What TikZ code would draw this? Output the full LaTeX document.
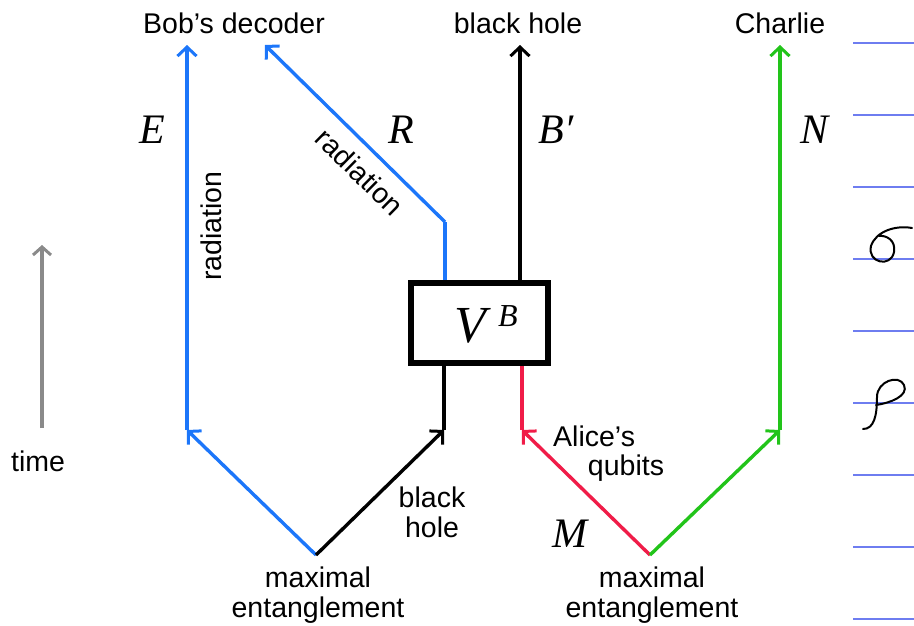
\documentclass[tikz,border=0pt]{standalone}
\usepackage{fontspec}
\setmainfont{Liberation Sans}
\newfontfamily\serifit{Liberation Serif}[UprightFont=*-Italic]
\usetikzlibrary{arrows.meta}
\definecolor{cblue}{RGB}{28,118,250}
\definecolor{cred}{RGB}{240,28,72}
\definecolor{cgreen}{RGB}{34,196,26}
\definecolor{cgray}{RGB}{138,138,138}
\definecolor{cline}{RGB}{110,125,240}
\tikzset{
  wire/.style={line width=3.4pt},
  tip/.style={-{Straight Barb[length=9pt,width=19pt,line width=3pt]}},
  lbl/.style={font=\fontsize{28.5}{31}\selectfont, inner sep=0pt, align=center},
  sym/.style={font=\serifit\fontsize{42}{46}\selectfont, inner sep=0pt},
  ruled/.style={cline, line width=1.2pt},
  hand/.style={line width=2pt, line cap=round, line join=round}
}
\begin{document}
\begin{tikzpicture}[x=1pt,y=-1pt]
\useasboundingbox (0,0) rectangle (914,625);
% top labels
\node[lbl] (bob) at (234,23) {Bob’s decoder};
\node[lbl] (bh) at (518,23) {black hole};
\node[lbl] (charlie) at (780,23) {Charlie};
% junction coordinates
\coordinate (meL) at (316,555);
\coordinate (meR) at (650,555);
\coordinate (eb) at (187,430);
\coordinate (et) at (187,45);
\coordinate (rt) at (265,45);
\coordinate (rk) at (445,222);
\coordinate (bl) at (444,430);
\coordinate (ml) at (522,430);
\coordinate (bt) at (520,45);
\coordinate (nb) at (780,430);
\coordinate (nt) at (780,45);
% box
\node[draw, line width=6pt, minimum width=137pt, minimum height=80pt, inner sep=0pt] (V) at (479,323) {};
\node[font=\serifit\fontsize{52}{56}\selectfont, inner sep=0pt, anchor=base] (Vlab) at (470,342) {V};
\node[font=\serifit\fontsize{32}{34}\selectfont, inner sep=0pt, anchor=base] (Blab) at (508,326) {B};
% wires
\draw[wire, cblue, tip] (meL) -- (eb);
\draw[wire, cblue, tip] (eb) -- (et);
\draw[wire, tip] (meL) -- (bl);
\draw[wire] (bl) -- (bl |- V.south);
\draw[wire, cblue] (rk |- V.north) -- (rk);
\draw[wire, cblue, tip] (rk) -- (rt);
\draw[wire, tip] (bt |- V.north) -- (bt);
\draw[wire, cred, tip] (meR) -- (ml);
\draw[wire, cred] (ml) -- (ml |- V.south);
\draw[wire, cgreen, tip] (meR) -- (nb);
\draw[wire, cgreen, tip] (nb) -- (nt);
% time arrow
\coordinate (tb) at (42,428);
\coordinate (tt) at (42,245);
\draw[line width=3.2pt, cgray, -{Straight Barb[length=8pt,width=18pt,line width=3pt]}] (tb) -- (tt);
\node[lbl] (time) at (38,461) {time};
% symbols
\node[sym] (E) at (152,130) {E};
\node[sym] (R) at (401,130) {R};
\node[sym] (B) at (556,130) {B′};
\node[sym] (N) at (815,130) {N};
\node[sym] (M) at (570,534) {M};
% text labels
\node[lbl, rotate=90] (rad1) at (211,226) {radiation};
\node[lbl, rotate=-44.5] (rad2) at (360,172) {radiation};
\node[lbl] (bhl) at (432,512) {black\\[-1pt]hole};
\node[lbl, anchor=west] (alice) at (553,436) {Alice’s};
\node[lbl] (qubits) at (626,468) {qubits};
\node[lbl] (meLt) at (318,595) {maximal\\[-1pt]entanglement};
\node[lbl] (meRt) at (652,595) {maximal\\[-1pt]entanglement};
% ruled lines on the right
\foreach \yy in {43,115,187,259,331,403,475,547,619}
  \draw[ruled] (853,\yy) -- (914,\yy);
% handwritten sigma
\draw[hand] (912,228) .. controls (896,225) and (876,231) .. (871,246)
  .. controls (867,263) and (891,268) .. (894,252)
  .. controls (896,240) and (886,235) .. (879,236);
% handwritten rho
\draw[hand] (863,429) .. controls (874,429) and (877,416) .. (877,397)
  .. controls (877,381) and (899,374) .. (904,385)
  .. controls (909,396) and (890,403) .. (876,405);
\end{tikzpicture}
\end{document}
